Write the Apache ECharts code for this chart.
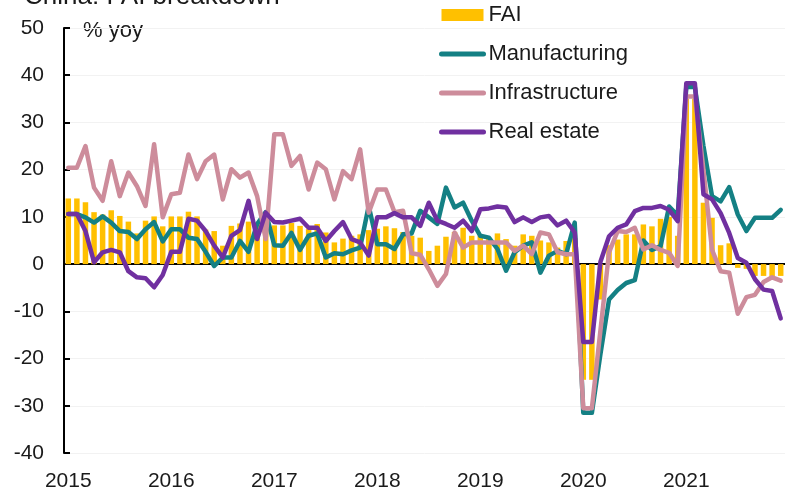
<!DOCTYPE html>
<html>
<head>
<meta charset="utf-8">
<title>China: FAI breakdown</title>
<script src="https://cdn.jsdelivr.net/npm/echarts@6/dist/echarts.min.js"></script>
<style>
  html, body { margin: 0; padding: 0; background: #fff; }
  #main { width: 785px; height: 492px; }
</style>
</head>
<body>
<div id="main"></div>
<script>
// China: FAI breakdown, % yoy, monthly Jan 2015 - Dec 2021
var yearLabels = ['2015', '2016', '2017', '2018', '2019', '2020', '2021']

var fai = [
  13.9, 13.9, 13.1, 11.0, 10.5, 11.4, 10.2, 9.0, 6.5, 9.2, 10.1, 8.0,
  10.1, 10.1, 11.1, 10.1, 7.3, 7.0, 3.9, 8.1, 8.6, 9.0, 8.5, 9.2,
  8.2, 8.2, 8.7, 8.1, 7.4, 8.5, 6.7, 4.6, 5.4, 6.0, 6.3, 7.2,
  7.5, 8.0, 7.6, 6.8, 6.0, 5.6, 2.8, 3.9, 5.8, 6.8, 7.7, 6.0,
  6.0, 5.6, 6.5, 5.3, 3.9, 6.3, 6.0, 5.0, 4.6, 3.5, 4.9, 5.5,
  -24.5, -24.5, -7.5, 4.0, 5.2, 6.3, 6.3, 8.4, 8.0, 9.6, 10.0, 6.0,
  35.0, 35.0, 13.0, 9.8, 4.0, 4.4, -0.8, -1.0, -2.5, -2.5, -3.0, -2.5
]
var manufacturing = [
  10.6, 10.6, 9.9, 8.8, 10.1, 8.8, 7.0, 6.8, 5.3, 7.4, 8.9, 4.8,
  7.4, 7.4, 5.6, 5.3, 2.6, -0.4, 1.4, 1.4, 4.9, 2.6, 8.5, 11.0,
  4.0, 3.9, 6.6, 3.0, 6.0, 6.5, 1.4, 2.3, 2.1, 2.9, 3.5, 12.3,
  4.2, 4.2, 3.2, 6.3, 6.5, 11.3, 9.9, 8.5, 16.2, 12.0, 13.0, 9.2,
  6.0, 5.6, 3.2, -1.4, 2.5, 3.9, 4.6, -1.8, 1.8, 2.8, 2.1, 8.8,
  -31.5, -31.5, -19.0, -7.5, -5.5, -4.0, -3.4, 5.0, 3.0, 3.8, 12.2, 10.3,
  37.5, 37.5, 25.0, 14.4, 13.3, 16.3, 10.5, 7.0, 9.8, 9.8, 9.8, 11.5
]
var infrastructure = [
  20.4, 20.4, 25.0, 16.2, 13.4, 21.8, 14.4, 19.4, 16.5, 12.3, 25.4, 9.9,
  14.8, 15.1, 23.2, 18.0, 21.8, 23.2, 13.7, 20.1, 18.3, 19.4, 14.4, 5.3,
  27.5, 27.5, 20.8, 22.9, 15.8, 21.5, 20.1, 13.7, 19.7, 18.0, 24.3, 10.9,
  15.8, 15.8, 11.0, 11.3, 2.3, 2.0, -1.1, -4.6, -2.1, 6.7, 3.5, 4.6,
  4.6, 4.6, 4.6, 4.6, 2.8, 3.9, 2.1, 6.7, 6.3, 2.5, 2.1, 2.1,
  -30.5, -30.5, -14.0, 2.5, 7.0, 6.8, 7.7, 3.1, 4.0, 3.0, 2.4, -0.4,
  35.5, 35.5, 20.0, 3.0, -1.5, -1.8, -10.5, -7.0, -6.5, -3.8, -2.8, -3.5
]
var realEstate = [
  10.6, 10.6, 7.0, 0.4, 2.5, 3.0, 2.5, -1.5, -2.8, -3.0, -4.9, -2.3,
  2.6, 2.6, 9.6, 9.2, 7.0, 3.9, 1.4, 6.0, 7.2, 13.4, 5.3, 10.9,
  8.9, 8.8, 9.2, 9.6, 7.7, 7.7, 4.9, 7.0, 8.9, 5.3, 4.6, 1.8,
  9.9, 9.9, 10.8, 9.9, 9.9, 8.1, 13.0, 9.2, 8.5, 7.7, 9.2, 7.0,
  11.6, 11.8, 12.2, 12.0, 8.9, 9.9, 8.9, 9.9, 10.2, 8.2, 9.2, 6.7,
  -16.5, -16.5, 0.5, 5.9, 7.7, 8.4, 11.2, 11.9, 11.9, 12.3, 11.5, 9.1,
  38.3, 38.3, 14.8, 13.7, 10.8, 6.6, 1.3, 0.3, -3.2, -5.4, -5.7, -11.5
]

// month categories, one per data point
var months = []
yearLabels.forEach(function (y) {
  for (var m = 1; m <= 12; m++) {
    months.push(y + '-' + (m < 10 ? '0' + m : m))
  }
})

var font = '"Liberation Sans", Arial, sans-serif'
var ink = '#1a1a1a'

function lineSeries(name, data, color) {
  return {
    name: name,
    type: 'line',
    data: data,
    symbol: 'none',
    itemStyle: { color: color },
    lineStyle: { color: color, width: 4.5, cap: 'round', join: 'round' }
  }
}

// legend entry for a line series: thick line, no marker
function lineLegend(name) {
  return { name: name, itemStyle: { opacity: 0 }, lineStyle: { width: 5, cap: 'round' } }
}

var chart = echarts.init(document.getElementById('main'))
var option = {
  backgroundColor: '#fff',
  animation: false,
  textStyle: { fontFamily: font },
  title: {
    text: 'China: FAI breakdown',
    left: 24,
    top: -16,
    padding: 0,
    textStyle: { fontSize: 26, fontWeight: 'normal', color: ink, fontFamily: font }
  },
  legend: {
    orient: 'vertical',
    left: 439,
    top: 4,
    padding: 0,
    itemWidth: 42,
    itemHeight: 12,
    itemGap: 17,
    textStyle: { fontSize: 22, color: ink, lineHeight: 22, fontFamily: font },
    data: [
      { name: 'FAI', icon: 'rect' },
      lineLegend('Manufacturing'),
      lineLegend('Infrastructure'),
      lineLegend('Real estate')
    ]
  },
  graphic: [{
    type: 'text',
    left: 83,
    top: 20,
    style: { text: '% yoy', fill: ink, font: '22px ' + font }
  }],
  grid: { left: 64, right: -7, top: 28, bottom: 38 },
  xAxis: [
    {
      // zero line with ticks pointing down
      type: 'category',
      data: months,
      axisLine: { onZero: true, onZeroAxisIndex: 0, lineStyle: { color: '#000', width: 2 } },
      axisTick: { interval: 11, length: 8, lineStyle: { color: '#000', width: 2 } },
      axisLabel: { show: false },
      splitLine: { show: false }
    },
    {
      // same zero line, ticks pointing up
      type: 'category',
      data: months,
      position: 'top',
      axisLine: { onZero: true, onZeroAxisIndex: 0, lineStyle: { color: '#000', width: 2 } },
      axisTick: { interval: 11, length: 5, lineStyle: { color: '#000', width: 2 } },
      axisLabel: { show: false },
      splitLine: { show: false }
    },
    {
      // year labels at the bottom
      type: 'category',
      data: months,
      position: 'bottom',
      axisLine: { show: false, onZero: false },
      axisTick: { show: false },
      axisLabel: {
        interval: 11,
        margin: 18,
        fontSize: 21,
        color: ink,
        formatter: function (v, i) {
          return yearLabels[i / 12] || ''
        }
      },
      splitLine: { show: false }
    }
  ],
  yAxis: {
    type: 'value',
    min: -40,
    max: 50,
    interval: 10,
    axisLine: { show: true, onZero: false, lineStyle: { color: '#000', width: 2 } },
    axisTick: { show: true, inside: true, length: 6, lineStyle: { color: '#000', width: 2 } },
    axisLabel: { margin: 20, fontSize: 21, color: ink },
    splitLine: { lineStyle: { color: '#f2f2f2', width: 1 } }
  },
  series: [
    {
      name: 'FAI',
      type: 'bar',
      data: fai,
      barCategoryGap: '36%',
      itemStyle: { color: '#ffc000' }
    },
    lineSeries('Manufacturing', manufacturing, '#148084'),
    lineSeries('Infrastructure', infrastructure, '#cd8c9b'),
    lineSeries('Real estate', realEstate, '#7030a0')
  ]
}
chart.setOption(option)
</script>
</body>
</html>
